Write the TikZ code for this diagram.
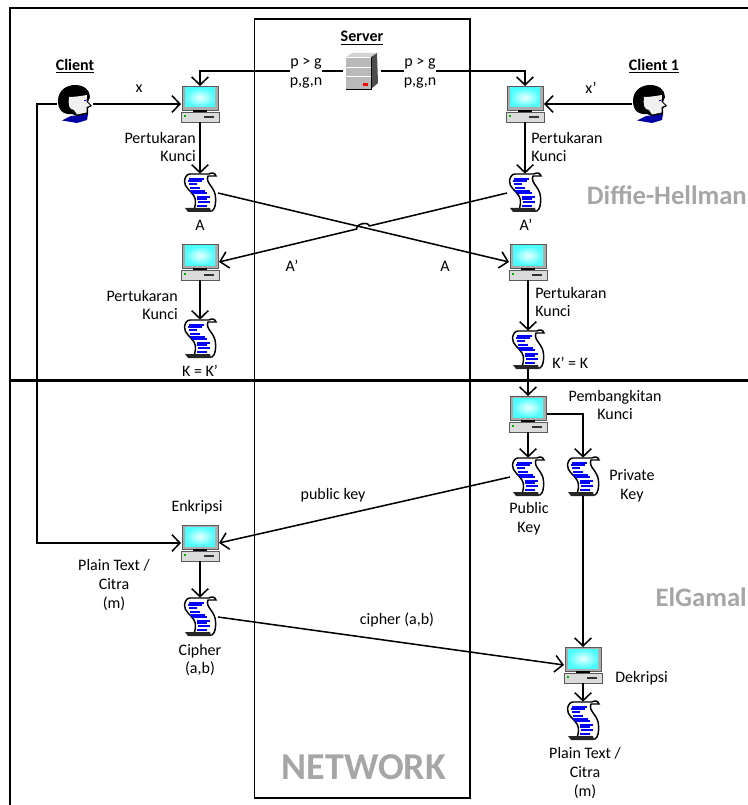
\documentclass[tikz,border=0pt]{standalone}
\usepackage{fontspec}
\setmainfont{Carlito}
\usetikzlibrary{arrows.meta,calc}
\definecolor{wmark}{HTML}{A6A6A6}
\tikzset{
  flow/.style={line width=1.15pt, -{Straight Barb[length=6pt,width=12.5pt]}},
  frameline/.style={line width=1.25pt},
  pcbox/.style={minimum width=28.5pt, minimum height=27pt, inner sep=0, outer sep=0},
  scrollbox/.style={minimum width=27pt, minimum height=29pt, inner sep=0, outer sep=0},
  personbox/.style={minimum width=27pt, minimum height=29pt, inner sep=0, outer sep=0},
  serverbox/.style={minimum width=28.5pt, minimum height=27pt, inner sep=0, outer sep=0},
  lbl/.style={font=\fontsize{12}{14}\selectfont, align=center, inner sep=0},
  title/.style={lbl, font=\fontsize{12}{14}\selectfont\bfseries},
  wm/.style={inner sep=0, text=wmark, font=\fontsize{20}{22}\selectfont\bfseries},
  computer/.pic={
    \draw[fill=gray!65, draw=gray!70!black, line width=.7pt] (-18,-18) rectangle (18,6);
    \shade[inner color=cyan!8, outer color=cyan!70!white] (-15,-16) rectangle (15,3);
    \fill[black] (-7,6) rectangle (7,8);
    \draw[fill=gray!28, draw=gray!70!black, line width=.7pt] (-19,8) rectangle (19,18.5);
    \fill[green!70!black] (-16,11) rectangle (-14,12.6);
    \fill[black!80] (4,12.4) rectangle (14,13.6);
  },
  scrollicon/.pic={
    \draw[fill=white, line width=1.1pt] (-10,-19) -- (9,-19) .. controls (12,-21) and (15,-20) .. (16,-17)
      -- (8,-17) .. controls (5,-10) and (15,-6) .. (15.5,4) .. controls (16,11) and (15,16) .. (12,18)
      -- (-6,18) .. controls (-5,12) and (-3,8) .. (-6,3) .. controls (-9,-2) and (-16,-6) .. (-15.5,-12)
      .. controls (-15,-16) and (-13,-19) .. (-10,-19) -- cycle;
    \fill[black!85] (-15,15) -- (10,15) -- (11,19) -- (-12,19) -- cycle;
    \foreach \xa/\xb/\yy in {-11/4/-14, -12/2/-11.6, -11/-3/-9, -10/0/-5, -10/5/-2.4, -8/7/0,
        -3/10/3.6, -3/7/6.2, -2/10/9, -3/7/12.6}
      \fill[blue] (\xa,\yy-1) rectangle (\xb,\yy+1);
  },
  personicon/.pic={
    \fill[blue!65!black] (-13,16.5) -- (-4,12) -- (13,10) -- (12,16) -- (2,19) -- cycle;
    \fill[black] (-17,-3) .. controls (-17,-14) and (-8,-19) .. (0,-19) .. controls (9,-19) and (15,-14) .. (15,-7)
      -- (13,-2) -- (17,2) -- (13,4) -- (13,10) -- (2,12) -- (-3,10) .. controls (-12,11) and (-17,6) .. (-17,-3) -- cycle;
    \fill[gray!12] (-6,-7) .. controls (0,-7) and (6,-8) .. (12,-9) -- (11.5,-2) -- (15,1.5) -- (11.5,3) -- (11.5,8.5)
      -- (2,10.5) -- (-1,6) .. controls (-6,6) and (-7,0) .. (-6,-7) -- cycle;
    \fill[blue] (8.5,-4) rectangle (11,-2.5);
  },
  servericon/.pic={
    \fill[gray!35] (-16,-14) -- (-10,-18) -- (15,-18) -- (9,-14) -- cycle;
    \fill[gray!60!black] (9,-14) -- (15,-18) -- (16,12) -- (9,18) -- cycle;
    \fill[gray!55] (-16,-14) rectangle (9,18);
    \draw[white, line width=.7pt] (-16,-4) -- (9,-4) (-16,5) -- (9,5) (-16,-14) -- (9,-14);
    \draw[black, line width=.6pt] (-16,18) -- (9,18) -- (9,-14);
    \fill[red] (1,12) rectangle (6,15);
  }
}

\begin{document}
\begin{tikzpicture}[x=0.75pt, y=-0.75pt]
  \useasboundingbox (0,0) rectangle (748,805);

  \draw[frameline] (748,8) -- (10,8) -- (10,805);
  \draw[frameline] (254.5,19) rectangle (470,798);
  \draw[frameline, line width=1.6pt] (10,380.5) -- (748,380.5);

  \node[personbox] (clientA) at (75,104) {};
  \node[personbox] (clientB) at (650,104) {};
  \node[serverbox] (server) at (362,71) {};

  \node[pcbox] (pcA) at (200,104) {};
  \node[pcbox] (pcB) at (525,104) {};
  \node[pcbox] (pcC) at (200,262) {};
  \node[pcbox] (pcD) at (528,262) {};
  \node[pcbox] (pcKey) at (528,414) {};
  \node[pcbox] (pcEnc) at (200,543) {};
  \node[pcbox] (pcDec) at (583,665) {};

  \node[scrollbox] (docA) at (200,193) {};
  \node[scrollbox] (docB) at (525,193) {};
  \node[scrollbox] (docK) at (200,339) {};
  \node[scrollbox] (docKb) at (528,350) {};
  \node[scrollbox] (docPub) at (528,477) {};
  \node[scrollbox] (docPriv) at (583,477) {};
  \node[scrollbox] (docCipher) at (200,617) {};
  \node[scrollbox] (docPlain) at (583,721) {};

  \foreach \n in {pcA,pcB,pcC,pcD,pcKey,pcEnc,pcDec}
    \pic at (\n) {computer};
  \foreach \n in {docA,docB,docK,docKb,docPub,docPriv,docCipher,docPlain}
    \pic at (\n) {scrollicon};
  \foreach \n in {clientA,clientB}
    \pic at (\n) {personicon};
  \pic at (server) {servericon};

  \draw[flow] (clientA) -- (pcA);
  \draw[flow] (clientB) -- (pcB);
  \draw[flow] (clientA.west) -- (37,104) -- (37,543) -- (pcEnc.west);
  \draw[flow] (server.west) -| (pcA.north);
  \draw[flow] (server.east) -| (pcB.north);
  \draw[flow] (pcA) -- (docA);
  \draw[flow] (pcB) -- (docB);
  \draw[flow] (pcC) -- (docK);
  \draw[flow] (pcD) -- (docKb);
  \draw[flow] (docKb) -- (pcKey);
  \draw[flow] (pcKey) -- (docPub);
  \draw[flow] (pcKey.east) -| (docPriv.north);
  \draw[flow] (docPriv) -- (pcDec);
  \draw[flow] (pcEnc) -- (docCipher);
  \draw[flow] (pcDec) -- (docPlain);
  \draw[flow] (docA.east) -- (pcD.west);
  \draw[flow] (docB.west) -- ($(docB.west)!0.478!(pcC.east)$) to[bend right=90] ($(docB.west)!0.522!(pcC.east)$) -- (pcC.east);
  \draw[flow] (docPub.west) -- (pcEnc.east);
  \draw[flow] (docCipher.east) -- (pcDec.west);

  \node[lbl, fill=white] (paramA) at (306,73) {p > g\\p,g,n};
  \node[lbl, fill=white] (paramB) at (420,73) {p > g\\p,g,n};

  \node[title] (tClientA) at (75,66) {\underline{Client}};
  \node[title] (tClientB) at (654,66) {\underline{Client 1}};
  \node[title] (tServer) at (362,38) {\underline{Server}};

  \node[lbl] (xA) at (139,89) {x};
  \node[lbl] (xB) at (591,88) {x'};
  \node[lbl, anchor=east, align=right] (swapA) at (196,147) {Pertukaran\\Kunci};
  \node[lbl, anchor=west, align=left] (swapB) at (531,147) {Pertukaran\\Kunci};
  \node[lbl, anchor=east, align=right] (swapC) at (178,305) {Pertukaran\\Kunci};
  \node[lbl, anchor=west, align=left] (swapD) at (535,302) {Pertukaran\\Kunci};
  \node[lbl] (lblA) at (200,225) {A};
  \node[lbl] (lblAb) at (526,225) {A’};
  \node[lbl] (lblCross) at (292,266) {A’};
  \node[lbl] (lblCrossb) at (445,266) {A};
  \node[lbl] (lblK) at (200,371) {K = K’};
  \node[lbl, anchor=west] (lblKb) at (552,363) {K’ = K};
  \node[lbl] (lblGen) at (615,405) {Pembangkitan\\Kunci};
  \node[lbl] (lblPub) at (529,519) {Public\\Key};
  \node[lbl] (lblPriv) at (632,486) {Private\\Key};
  \node[lbl] (lblPubkey) at (333,495) {public key};
  \node[lbl] (lblEnc) at (197,507) {Enkripsi};
  \node[lbl] (lblMsg) at (114,585) {Plain Text /\\Citra\\(m)};
  \node[lbl] (lblCipher) at (200,660) {Cipher\\(a,b)};
  \node[lbl] (lblCipherab) at (397,620) {cipher (a,b)};
  \node[lbl, anchor=west] (lblDec) at (615,678) {Dekripsi};
  \node[lbl] (lblPlain) at (585,773) {Plain Text /\\Citra\\(m)};

  \node[wm, anchor=east] (wmDH) at (747,195) {Diffie-Hellman};
  \node[wm, anchor=east] (wmEG) at (747,597) {ElGamal};
  \node[wm, font=\fontsize{28.5}{30}\selectfont\bfseries] (wmNet) at (364,767) {NETWORK};
\end{tikzpicture}
\end{document}
